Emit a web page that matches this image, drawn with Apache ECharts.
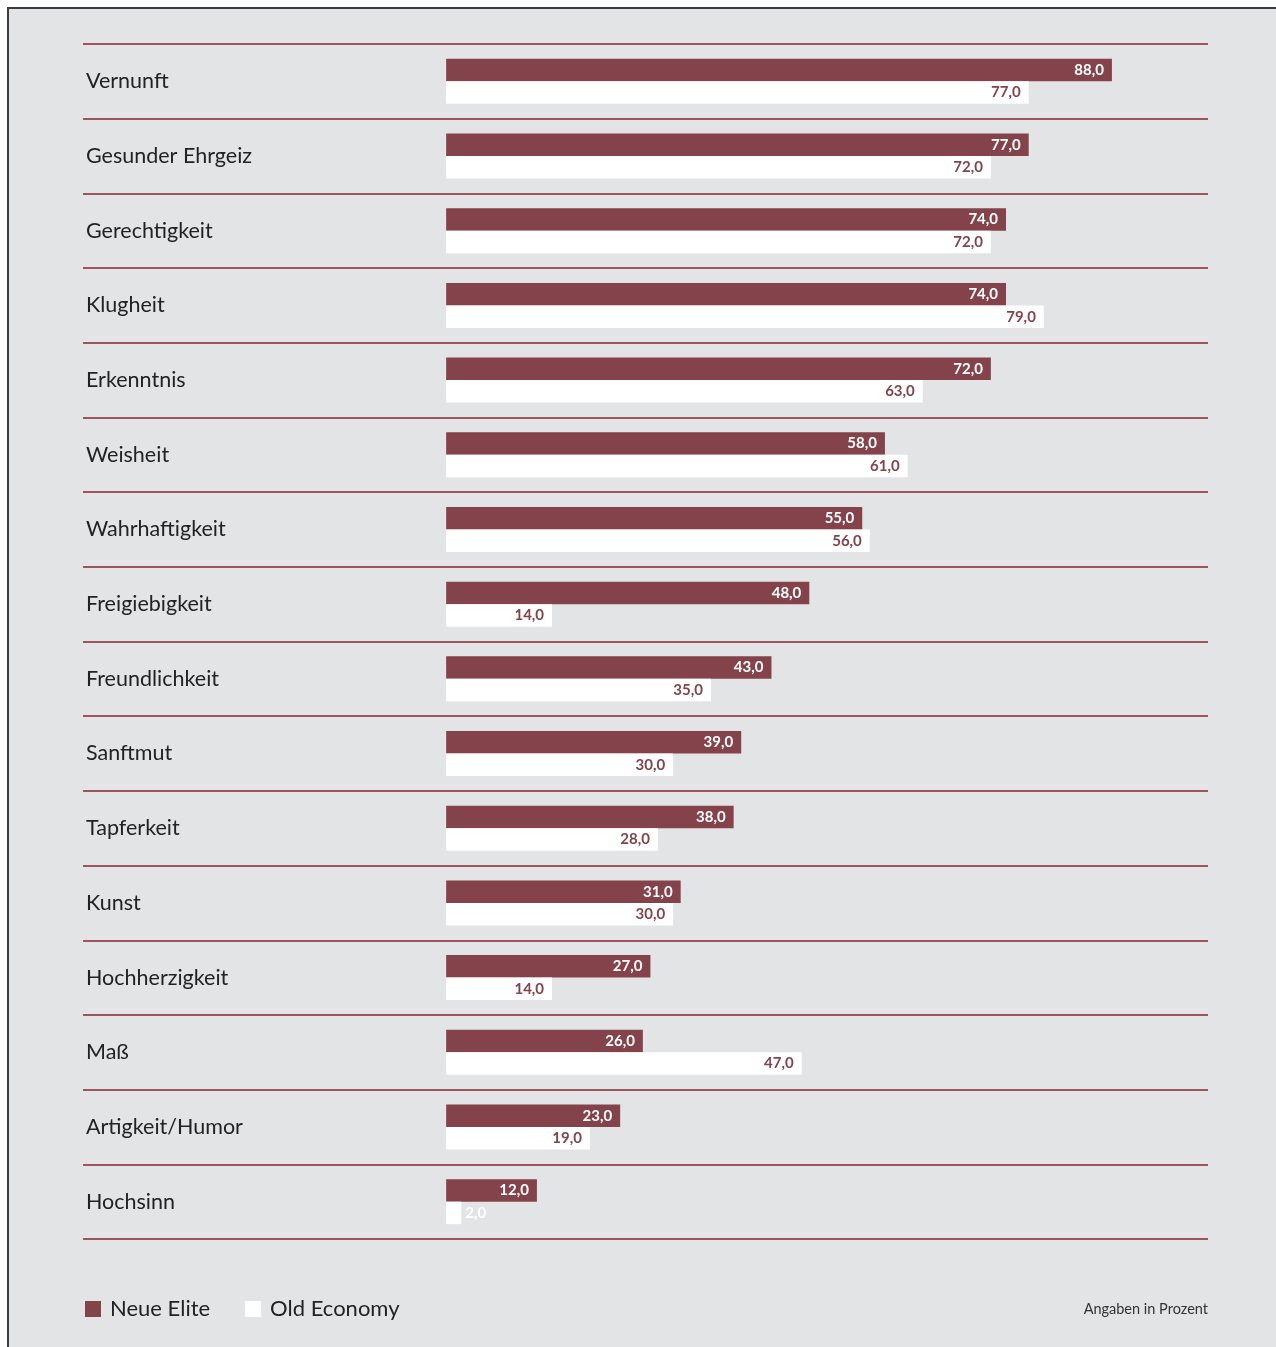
<!DOCTYPE html>
<html>
<head>
<meta charset="utf-8">
<title>Tugenden: Neue Elite vs. Old Economy</title>
<script src="https://cdn.jsdelivr.net/npm/echarts@6/dist/echarts.min.js"></script>
<style>
  html, body { margin: 0; padding: 0; background: #ffffff; }
  #frame {
    position: absolute; left: 7px; top: 7px; right: 0; bottom: 0;
    background: #e3e4e6;
    border-top: 2px solid #3c3c3c;
    border-left: 2px solid #3c3c3c;
  }
  #chart { position: absolute; left: 0; top: 0; width: 1276px; height: 1347px; }
</style>
</head>
<body>
<div id="frame"></div>
<div id="chart"></div>
<script>
// Virtues, top to bottom
const categories = [
  'Vernunft', 'Gesunder Ehrgeiz', 'Gerechtigkeit', 'Klugheit', 'Erkenntnis',
  'Weisheit', 'Wahrhaftigkeit', 'Freigiebigkeit', 'Freundlichkeit', 'Sanftmut',
  'Tapferkeit', 'Kunst', 'Hochherzigkeit', 'Maß', 'Artigkeit/Humor', 'Hochsinn'
];
const neueElite  = [88, 77, 74, 74, 72, 58, 55, 48, 43, 39, 38, 31, 27, 26, 23, 12];
const oldEconomy = [77, 72, 72, 79, 63, 61, 56, 14, 35, 30, 28, 30, 14, 47, 19, 2];
const seriesNames = ['Neue Elite', 'Old Economy'];
const footnote = 'Angaben in Prozent';

const WINE = '#84434b';
const FONT = 'Lato, "Open Sans", sans-serif';
const fmt = v => v.toFixed(1).replace('.', ',');

// Short white bars cannot hold their label, so it sits outside the bar
const oldEconomyData = oldEconomy.map(v => v < 5
  ? { value: v, label: { position: 'right', distance: 4, color: '#ffffff' } }
  : v);

const chart = echarts.init(document.getElementById('chart'), null, { renderer: 'canvas' });

chart.setOption({
  backgroundColor: 'transparent',
  animation: false,
  textStyle: { fontFamily: FONT },
  grid: { left: 83, right: 68, top: 44, bottom: 108, containLabel: false },
  xAxis: {
    type: 'value',
    min: -48,
    max: 100.7,
    show: false
  },
  yAxis: {
    type: 'category',
    data: categories,
    inverse: true,
    boundaryGap: true,
    axisLine: { show: false, onZero: false },
    axisTick: { show: false },
    axisLabel: {
      align: 'left',
      margin: -3,
      fontFamily: FONT,
      fontSize: 21.5,
      color: '#222222'
    },
    splitLine: { show: true, lineStyle: { color: '#9c5560', width: 2 } }
  },
  legend: {
    left: 80,
    top: 1293,
    itemWidth: 16,
    itemHeight: 16,
    itemGap: 35,
    icon: 'rect',
    textStyle: { fontFamily: FONT, fontSize: 22, color: '#222222', padding: [0, 0, 0, 4] },
    data: seriesNames
  },
  title: {
    text: footnote,
    right: 63,
    top: 1297,
    textStyle: { fontFamily: FONT, fontSize: 14.5, fontWeight: 'normal', color: '#333333' }
  },
  series: [
    {
      name: seriesNames[0],
      type: 'bar',
      data: neueElite,
      barWidth: 22.5,
      barGap: '0%',
      itemStyle: { color: WINE },
      label: {
        show: true,
        position: 'insideRight',
        distance: 8,
        formatter: p => fmt(p.value),
        color: '#ffffff',
        fontFamily: FONT,
        fontWeight: 'bold',
        fontSize: 15
      }
    },
    {
      name: seriesNames[1],
      type: 'bar',
      data: oldEconomyData,
      barWidth: 22.5,
      barGap: '0%',
      itemStyle: { color: '#ffffff' },
      label: {
        show: true,
        position: 'insideRight',
        distance: 8,
        formatter: p => fmt(p.value),
        color: WINE,
        fontFamily: FONT,
        fontWeight: 'bold',
        fontSize: 15
      }
    }
  ]
});
</script>
</body>
</html>
